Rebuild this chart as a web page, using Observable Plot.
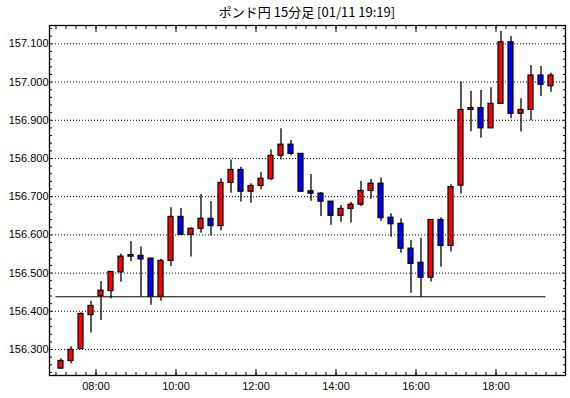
<!DOCTYPE html>
<html><head><meta charset="utf-8">
<script src="https://cdn.jsdelivr.net/npm/d3@7"></script>
<script src="https://cdn.jsdelivr.net/npm/@observablehq/plot@0.6"></script>
<style>
body{margin:0;background:#fff;}
#wrap{position:relative;width:570px;height:398px;}
#title{position:absolute;left:49px;width:516px;top:4px;text-align:center;font-family:"Noto Sans CJK JP";font-size:13px;line-height:16px;color:#000;}
</style></head><body>
<div id="wrap"><div id="title">ポンド円 15分足 [01/11 19:19]</div></div>
<script>
const times = ["07:00","07:15","07:30","07:45","08:00","08:15","08:30","08:45","09:00","09:15",
  "09:30","09:45","10:00","10:15","10:30","10:45","11:00","11:15","11:30","11:45",
  "12:00","12:15","12:30","12:45","13:00","13:15","13:30","13:45","14:00","14:15",
  "14:30","14:45","15:00","15:15","15:30","15:45","16:00","16:15","16:30","16:45",
  "17:00","17:15","17:30","17:45","18:00","18:15","18:30","18:45","19:00","19:15"];
const open = [156.250,156.270,156.301,156.390,156.440,156.453,156.502,156.543,156.545,156.538,
  156.438,156.532,156.647,156.600,156.616,156.642,156.623,156.736,156.770,156.713,
  156.728,156.746,156.807,156.836,156.812,156.714,156.708,156.687,156.650,156.668,
  156.679,156.715,156.734,156.645,156.629,156.564,156.527,156.488,156.639,156.571,
  156.729,156.927,156.932,156.879,156.943,157.104,156.917,156.927,157.017,156.989];
const high = [156.276,156.307,156.396,156.426,156.478,156.504,156.550,156.583,156.568,156.538,
  156.536,156.671,156.669,156.619,156.706,156.687,156.747,156.796,156.777,156.734,
  156.763,156.823,156.878,156.847,156.812,156.758,156.711,156.687,156.677,156.685,
  156.740,156.745,156.749,156.655,156.642,156.585,156.591,156.639,156.645,156.731,
  157.001,156.976,156.978,156.985,157.132,157.119,156.956,157.043,157.041,157.023];
const low = [156.249,156.263,156.300,156.343,156.376,156.433,156.476,156.530,156.438,156.416,
  156.426,156.517,156.600,156.542,156.604,156.597,156.610,156.709,156.686,156.683,
  156.718,156.742,156.796,156.807,156.713,156.688,156.648,156.625,156.633,156.631,
  156.675,156.693,156.636,156.594,156.552,156.447,156.437,156.477,156.515,156.555,
  156.707,156.870,156.853,156.878,156.943,156.904,156.869,156.899,156.962,156.973];
const close = [156.270,156.299,156.393,156.414,156.454,156.503,156.543,156.547,156.536,156.438,
  156.532,156.647,156.600,156.616,156.642,156.623,156.736,156.770,156.713,156.728,
  156.747,156.807,156.836,156.812,156.713,156.708,156.687,156.650,156.668,156.679,
  156.715,156.734,156.644,156.628,156.564,156.524,156.488,156.639,156.571,156.725,
  156.927,156.932,156.879,156.943,157.104,156.917,156.927,157.017,156.993,157.017];
const yTickLabels = [156.3,156.4,156.5,156.6,156.7,156.8,156.9,157.0,157.1];
const xTickLabels = ["08:00","10:00","12:00","14:00","16:00","18:00"];
const supportLevel = 156.438;
const supportSpan = ["07:00","19:15"];

const toMin = s => +s.slice(0,2)*60 + +s.slice(3,5);
const fmt = m => String(Math.floor(m/60)).padStart(2,"0") + ":" + String(m%60).padStart(2,"0");
const data = times.map((t,i) => ({t: toMin(t), o: open[i], h: high[i], l: low[i], c: close[i]}));
const up = data.filter(d => d.c >= d.o);
const down = data.filter(d => d.c < d.o);
const xMinor = d3.range(toMin(times[0]), toMin(times[times.length-1]) + 30, 15);
const xMajor = xTickLabels.map(toMin);
const yMinor = d3.range(0, 46).map(i => +(156.24 + i*0.02).toFixed(2));
const supportData = [{y: supportLevel, x1: toMin(supportSpan[0]), x2: toMin(supportSpan[1])}];

const body = {x1: "t", x2: d => d.t + 15, y1: "o", y2: "c", insetLeft: 2.5, insetRight: 2.5, stroke: "black", strokeWidth: 1.2};
const blank = () => "";

const chart = Plot.plot({
  width: 570, height: 398,
  marginTop: 25, marginBottom: 23, marginLeft: 49, marginRight: 5,
  x: {domain: [410.25, 1184.25], axis: null},
  y: {domain: [156.232, 157.148], axis: null},
  style: {fontFamily: "Liberation Sans", fontSize: "11px", background: "white", color: "black"},
  marks: [
    Plot.ruleY(yTickLabels, {stroke: "black", strokeDasharray: "1,2"}),
    Plot.ruleY(supportData, {y: "y", x1: "x1", x2: "x2", stroke: "black", strokeWidth: 1}),
    Plot.ruleX(data, {x: d => d.t + 7.5, y1: "l", y2: "h", stroke: "black", strokeWidth: 1.3}),
    Plot.rect(up, {...body, fill: "#ff0000"}),
    Plot.rect(down, {...body, fill: "#0000ff"}),
    Plot.axisY(yMinor, {anchor: "left", tickSize: -3, tickFormat: blank, label: null}),
    Plot.axisY(yMinor, {anchor: "right", tickSize: -3, tickFormat: blank, label: null}),
    Plot.axisX(xMinor, {anchor: "bottom", tickSize: -3, tickFormat: blank, label: null}),
    Plot.axisX(xMinor, {anchor: "top", tickSize: -3, tickFormat: blank, label: null}),
    Plot.axisX(xMajor, {anchor: "bottom", tickSize: -6, tickFormat: blank, label: null}),
    Plot.axisX(xMajor, {anchor: "top", tickSize: -6, tickFormat: blank, label: null}),
    Plot.axisY(yTickLabels, {anchor: "left", tickSize: 0, tickPadding: 1, tickFormat: d => d.toFixed(3), label: null, fontSize: 11}),
    Plot.axisX(xMajor, {anchor: "bottom", tickSize: 0, tickPadding: 7, tickFormat: fmt, label: null, fontSize: 11}),
    Plot.frame({stroke: "black", strokeWidth: 1.3})
  ]
});
document.getElementById("wrap").prepend(chart);
</script>
</body></html>
